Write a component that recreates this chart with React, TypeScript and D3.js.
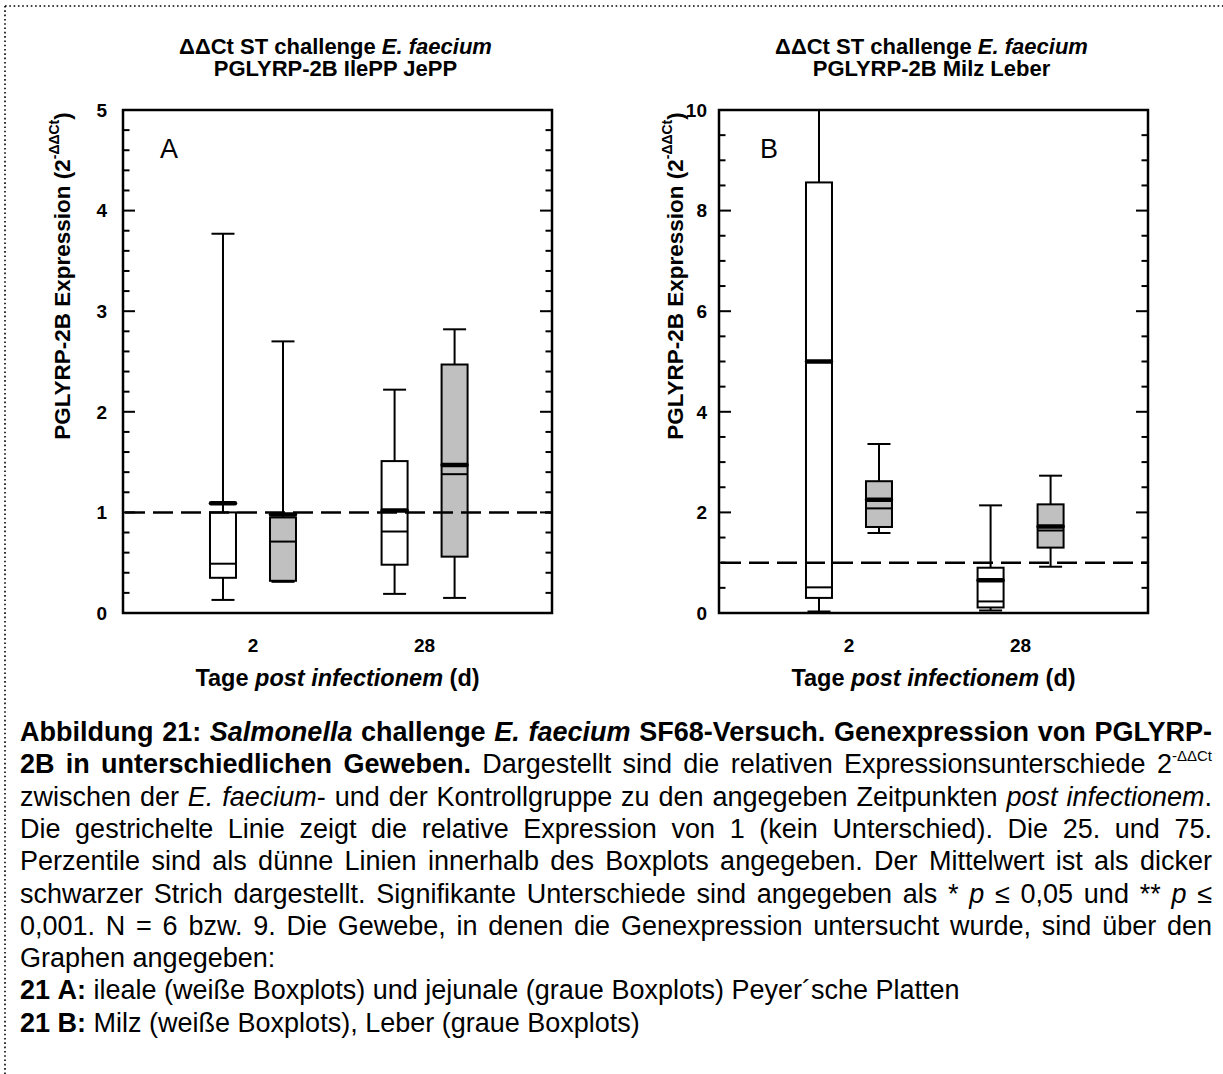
import React, { useEffect, useRef } from "react";
import * as d3 from "d3";

// ---------- data ----------
const days = ["2", "28"];
const groups = ["weiss", "grau"];
// order: [day2 weiß, day2 grau, day28 weiß, day28 grau]
const aWhiskerHigh = [3.77, 2.7, 2.22, 2.82];
const aQ3 = [1.0, 0.95, 1.51, 2.47];
const aMedian = [0.49, 0.71, 0.81, 1.38];
const aQ1 = [0.35, 0.32, 0.48, 0.56];
const aWhiskerLow = [0.13, 0.31, 0.19, 0.15];
const aMean = [1.09, 0.98, 1.02, 1.47];

const bWhiskerHigh = [10.8, 3.36, 2.14, 2.73];
const bQ3 = [8.56, 2.62, 0.9, 2.16];
const bMedian = [0.51, 2.08, 0.23, 1.64];
const bQ1 = [0.3, 1.71, 0.11, 1.3];
const bWhiskerLow = [0.03, 1.59, 0.05, 0.92];
const bMean = [5.0, 2.25, 0.65, 1.72];

const aTicks = [0, 1, 2, 3, 4, 5];
const bTicks = [0, 2, 4, 6, 8, 10];
const referenceLine = 1;

type Seg = [string, string];
const captionLines: { segs: Seg[]; justify: boolean }[] = [
  { segs: [["b", "Abbildung 21: "], ["bi", "Salmonella"], ["b", " challenge "], ["bi", "E. faecium"], ["b", " SF68-Versuch. Genexpression von PGLYRP-"]], justify: true },
  { segs: [["b", "2B in unterschiedlichen Geweben."], ["r", " Dargestellt sind die relativen Expressionsunterschiede 2"], ["sup", "-ΔΔCt"]], justify: true },
  { segs: [["r", "zwischen der "], ["i", "E. faecium"], ["r", "- und der Kontrollgruppe zu den angegeben Zeitpunkten "], ["i", "post infectionem"], ["r", "."]], justify: true },
  { segs: [["r", "Die gestrichelte Linie zeigt die relative Expression von 1 (kein Unterschied). Die 25. und 75."]], justify: true },
  { segs: [["r", "Perzentile sind als dünne Linien innerhalb des Boxplots angegeben. Der Mittelwert ist als dicker"]], justify: true },
  { segs: [["r", "schwarzer Strich dargestellt. Signifikante Unterschiede sind angegeben als * "], ["i", "p"], ["r", " ≤ 0,05 und ** "], ["i", "p"], ["r", " ≤"]], justify: true },
  { segs: [["r", "0,001. N = 6 bzw. 9. Die Gewebe, in denen die Genexpression untersucht wurde, sind über den"]], justify: true },
  { segs: [["r", "Graphen angegeben:"]], justify: false },
  { segs: [["b", "21 A:"], ["r", " ileale (weiße Boxplots) und jejunale (graue Boxplots) Peyer´sche Platten"]], justify: false },
  { segs: [["b", "21 B:"], ["r", " Milz (weiße Boxplots), Leber (graue Boxplots)"]], justify: false },
];

const FONT = "'Liberation Sans', Arial, Helvetica, sans-serif";

type Stats = { hi: number[]; q3: number[]; med: number[]; q1: number[]; lo: number[]; mean: number[] };

function Panel(props: {
  id: string;
  left: number; right: number; top: number; bottom: number;
  yMax: number; labels: number[]; minorCount: number;
  stats: Stats; title2: string; letter: string; letterX: number; yTitleX: number; labelGap: number;
}) {
  const { id, left, right, top, bottom, yMax, labels, minorCount, stats, title2, letter, letterX, yTitleX, labelGap } = props;
  const y = d3.scaleLinear().domain([0, yMax]).range([bottom, top]);
  const x = d3.scalePoint<string>().domain(days).range([left, right]).padding(0.75).align(0.505);
  const inner = d3.scaleBand<string>().domain(groups).range([-60, 60]);
  const boxW = 26;
  const minors = y.ticks(minorCount).filter((v) => !labels.some((m) => Math.abs(m - v) < 1e-9));
  const cx = (i: number) => (x(days[Math.floor(i / 2)]) as number) + (inner(groups[i % 2]) as number) + inner.bandwidth() / 2;
  const idx = d3.range(stats.q3.length);
  const midX = (left + right) / 2;
  return (
    <g>
      <defs>
        <clipPath id={id}>
          <rect x={left} y={top} width={right - left} height={bottom - top} />
        </clipPath>
      </defs>
      <text x={midX - 2} y={54} textAnchor="middle" fontWeight="bold" fontSize={22} fontFamily={FONT}>
        ΔΔCt ST challenge <tspan fontStyle="italic">E. faecium</tspan>
      </text>
      <text x={midX - 2} y={76} textAnchor="middle" fontWeight="bold" fontSize={22} fontFamily={FONT}>
        {title2}
      </text>
      <g clipPath={`url(#${id})`} stroke="#000" strokeWidth={2}>
        {idx.map((i) => {
          const c = cx(i);
          return (
            <g key={i}>
              <line x1={c} x2={c} y1={y(stats.q3[i])} y2={y(stats.hi[i])} />
              <line x1={c - 11.5} x2={c + 11.5} y1={y(stats.hi[i])} y2={y(stats.hi[i])} />
              <line x1={c} x2={c} y1={y(stats.q1[i])} y2={y(stats.lo[i])} />
              <line x1={c - 11.5} x2={c + 11.5} y1={y(stats.lo[i])} y2={y(stats.lo[i])} />
              <rect x={c - boxW / 2} y={y(stats.q3[i])} width={boxW} height={y(stats.q1[i]) - y(stats.q3[i])}
                fill={i % 2 === 0 ? "#ffffff" : "#c0c0c0"} />
              <line x1={c - boxW / 2} x2={c + boxW / 2} y1={y(stats.med[i])} y2={y(stats.med[i])} />
              <line x1={c - boxW / 2 + 1} x2={c + boxW / 2 - 1} y1={y(stats.mean[i])} y2={y(stats.mean[i])}
                strokeWidth={4.5} strokeLinecap="round" />
            </g>
          );
        })}
      </g>
      <line x1={left} x2={right} y1={y(referenceLine)} y2={y(referenceLine)} stroke="#000" strokeWidth={2.5}
        strokeDasharray="20 8" strokeDashoffset={-2} />
      {labels.map((v) => (
        <g key={"M" + v} stroke="#000" strokeWidth={2}>
          <line x1={left} x2={left + 12} y1={y(v)} y2={y(v)} />
          <line x1={right} x2={right - 12} y1={y(v)} y2={y(v)} />
        </g>
      ))}
      {minors.map((v) => (
        <g key={"m" + v} stroke="#000" strokeWidth={2}>
          <line x1={left} x2={left + 6.5} y1={y(v)} y2={y(v)} />
          <line x1={right} x2={right - 6.5} y1={y(v)} y2={y(v)} />
        </g>
      ))}
      <rect x={left} y={top} width={right - left} height={bottom - top} fill="none" stroke="#000" strokeWidth={2.5} />
      {labels.map((v) => (
        <text key={"L" + v} x={left - labelGap} y={y(v)} dy="0.36em" textAnchor="end" fontWeight="bold" fontSize={19} fontFamily={FONT}>
          {v}
        </text>
      ))}
      {days.map((d) => (
        <text key={"d" + d} x={x(d) as number} y={652} textAnchor="middle" fontWeight="bold" fontSize={19} fontFamily={FONT}>
          {d}
        </text>
      ))}
      <text x={midX} y={686} textAnchor="middle" fontWeight="bold" fontSize={23.5} fontFamily={FONT}>
        Tage <tspan fontStyle="italic">post infectionem</tspan> (d)
      </text>
      <text transform={`translate(${yTitleX},276) rotate(-90)`} textAnchor="middle" fontWeight="bold" fontSize={22.5} fontFamily={FONT}>
        PGLYRP-2B Expression (2<tspan fontSize={14} dy={-11}>-ΔΔCt</tspan><tspan dy={11}>)</tspan>
      </text>
      <text x={letterX} y={158} fontSize={27} fontFamily={FONT}>
        {letter}
      </text>
    </g>
  );
}

function Caption() {
  const ref = useRef<SVGGElement>(null);
  useEffect(() => {
    const g = d3.select(ref.current);
    g.selectAll("*").remove();
    const capLeft = 20;
    const capRight = 1212;
    const fs = 27;
    captionLines.forEach((line, li) => {
      const yy = 741 + li * 32.3;
      const words: Seg[][] = [];
      let cur: Seg[] = [];
      line.segs.forEach(([st, txt]) => {
        for (const ch of txt) {
          if (ch === " ") {
            if (cur.length) words.push(cur);
            cur = [];
          } else {
            const last = cur[cur.length - 1];
            if (last && last[0] === st) last[1] += ch;
            else cur.push([st, ch]);
          }
        }
      });
      if (cur.length) words.push(cur);
      const nodes = words.map((w) => {
        const t = g.append("text").attr("y", yy).attr("font-size", fs).attr("font-family", FONT);
        w.forEach(([st, txt]) => {
          const ts = t.append("tspan").text(txt);
          ts.attr("font-weight", st.includes("b") ? "bold" : "normal");
          ts.attr("font-style", st.includes("i") ? "italic" : "normal");
          if (st === "sup") ts.attr("font-size", 15).attr("dy", -12).attr("font-weight", "normal").attr("font-style", "normal");
        });
        return t;
      });
      const widths = nodes.map((n) => (n.node() as SVGTextElement).getComputedTextLength());
      const total = d3.sum(widths);
      const gap = line.justify && nodes.length > 1 ? (capRight - capLeft - total) / (nodes.length - 1) : fs * 0.278;
      let xx = capLeft;
      nodes.forEach((n, i) => {
        n.attr("x", xx);
        xx += widths[i] + gap;
      });
    });
  }, []);
  return <g ref={ref} />;
}

export default function App() {
  const statsA: Stats = { hi: aWhiskerHigh, q3: aQ3, med: aMedian, q1: aQ1, lo: aWhiskerLow, mean: aMean };
  const statsB: Stats = { hi: bWhiskerHigh, q3: bQ3, med: bMedian, q1: bQ1, lo: bWhiskerLow, mean: bMean };
  return (
    <svg width={1223} height={1074} style={{ position: "absolute", left: 0, top: 0, background: "#fff" }}>
      <rect x={0} y={0} width={1223} height={1074} fill="#fff" />
      <line x1={5} x2={1223} y1={6} y2={6} stroke="#000" strokeWidth={1.6} strokeDasharray="1.6 2.7" />
      <line x1={5} x2={5} y1={6} y2={1074} stroke="#000" strokeWidth={1.6} strokeDasharray="1.6 2.7" />
      <Panel id="clipA" left={123} right={552} top={110} bottom={613} yMax={5} labels={aTicks} minorCount={25}
        stats={statsA} title2="PGLYRP-2B IlePP JePP" letter="A" letterX={160} yTitleX={70} labelGap={16} />
      <Panel id="clipB" left={719} right={1148} top={110} bottom={613} yMax={10} labels={bTicks} minorCount={20}
        stats={statsB} title2="PGLYRP-2B Milz Leber" letter="B" letterX={760} yTitleX={683} labelGap={12} />
      <Caption />
    </svg>
  );
}
